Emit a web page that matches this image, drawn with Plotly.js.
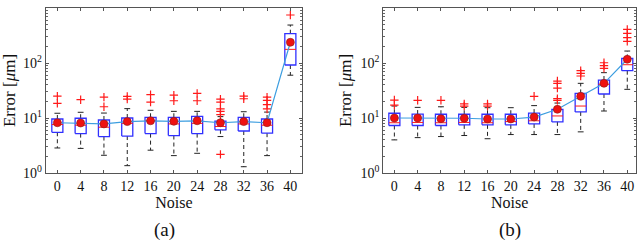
<!DOCTYPE html>
<html>
<head>
<meta charset="utf-8">
<script src="https://cdn.plot.ly/plotly-3.0.1.min.js"></script>
<style>html,body{margin:0;padding:0;background:#fff;}#chart{width:640px;height:243px;}</style>
</head>
<body>
<div id="chart"></div>
<script>
// ---------- data ----------
const noise = [0, 4, 8, 12, 16, 20, 24, 28, 32, 36, 40];
const yTickVals = [1, 10, 100, 1000];
const yTickText = ['10<sup>0</sup>', '10<sup>1</sup>', '10<sup>2</sup>', '10<sup>3</sup>'];

// panel (a)
const aQ1    = [5.5, 5.2, 4.6, 4.7, 5.2, 4.8, 5.2, 6.1, 5.8, 5.3, 92];
const aMed   = [7.6, 7.4, 6.8, 8.0, 8.9, 7.8, 8.0, 7.0, 7.8, 7.4, 177];
const aQ3    = [9.6, 9.9, 9.2, 10.0, 10.3, 10.3, 10.7, 8.8, 10.3, 9.6, 341];
const aLo    = [2.85, 2.8, 2.1, 1.36, 2.6, 2.07, 2.28, 4.6, 1.3, 2.07, 60];
const aHi    = [12.2, 12.7, 12.3, 14.8, 13.8, 13.2, 13.2, 10.6, 13.0, 12.8, 490];
const aMean  = [8.2, 8.1, 7.8, 8.6, 8.9, 8.7, 8.9, 8.2, 8.6, 8.2, 238];
const aOut   = [[25, 18.5], [21.5], [24, 16], [24.7, 22], [26.5, 19.5], [26, 20.6],
                [28, 20.6], [22, 19.5, 14.6, 13.2, 11.5, 2.18], [25, 22.4],
                [24, 21, 17.5, 14.6], [746]];

// panel (b)
const bQ1    = [7.3, 7.3, 7.3, 7.5, 7.5, 7.5, 7.8, 8.5, 12.9, 27.3, 72.5];
const bMed   = [8.2, 8.3, 8.2, 8.3, 8.2, 8.6, 8.9, 10.9, 16.5, 41, 93];
const bQ3    = [12.2, 11.8, 11.7, 11.7, 11.7, 11.7, 12.3, 14.4, 28, 49, 121];
const bLo    = [4.0, 4.4, 4.6, 4.8, 4.2, 5.0, 5.0, 5.0, 5.6, 13.4, 33.2];
const bHi    = [16.5, 15.6, 16.0, 15.6, 15.4, 15.4, 16.8, 18.7, 42.7, 66.7, 165];
const bMean  = [10.0, 10.0, 9.7, 9.9, 9.6, 9.6, 10.4, 14.4, 24.8, 42.7, 117];
const bOut   = [[21.2, 17.2], [21], [21], [18, 16.5], [18, 16.5], [],
                [24.8], [47, 42.7, 35, 22.5, 21], [72.5, 65, 58], [101, 89.5, 80],
                [409, 346, 289, 248]];

// ---------- styling ----------
const BOX_HW = 0.95, CAP_HW = 0.5;
const BLUE = '#3030ff', RED = '#ff1a1a', MEANLINE = '#3d9ee0';
const FONT = 'Liberation Serif, Times New Roman, serif';

function panelTraces(q1, med, q3, lo, hi, mean, out, xa, ya) {
  const wx = [], wy = [], cx = [], cy = [], bx = [], by = [], mx = [], my = [], ox = [], oy = [];
  noise.forEach((x, i) => {
    wx.push(x, x, null, x, x, null);
    wy.push(q3[i], hi[i], null, q1[i], lo[i], null);
    cx.push(x - CAP_HW, x + CAP_HW, null, x - CAP_HW, x + CAP_HW, null);
    cy.push(hi[i], hi[i], null, lo[i], lo[i], null);
    bx.push(x - BOX_HW, x + BOX_HW, x + BOX_HW, x - BOX_HW, x - BOX_HW, null);
    by.push(q1[i], q1[i], q3[i], q3[i], q1[i], null);
    mx.push(x - BOX_HW, x + BOX_HW, null);
    my.push(med[i], med[i], null);
    out[i].forEach(v => { ox.push(x); oy.push(v); });
  });
  const common = {xaxis: xa, yaxis: ya, showlegend: false, hoverinfo: 'skip', type: 'scatter'};
  return [
    Object.assign({x: wx, y: wy, mode: 'lines', line: {color: '#222', width: 1, dash: '4px,3px'}}, common),
    Object.assign({x: cx, y: cy, mode: 'lines', line: {color: '#222', width: 1}}, common),
    Object.assign({x: bx, y: by, mode: 'lines', line: {color: BLUE, width: 1.3}}, common),
    Object.assign({x: mx, y: my, mode: 'lines', line: {color: RED, width: 1}}, common),
    Object.assign({x: ox, y: oy, mode: 'markers',
      marker: {symbol: 'cross-thin-open', size: 6, color: RED, line: {color: RED, width: 1.2}}}, common),
    Object.assign({x: noise, y: mean, mode: 'lines+markers', line: {color: MEANLINE, width: 1.2},
      marker: {symbol: 'circle', size: 8, color: '#ee1111', line: {color: '#8a1a1a', width: 0.6}}}, common)
  ];
}

const traces = [].concat(
  panelTraces(aQ1, aMed, aQ3, aLo, aHi, aMean, aOut, 'x', 'y'),
  panelTraces(bQ1, bMed, bQ3, bLo, bHi, bMean, bOut, 'x2', 'y2')
);

const minorVals = [];
[1, 10, 100].forEach(d => { for (let k = 2; k <= 9; k++) minorVals.push(d * k); });

function xAxis(domain, range) {
  return {
    domain: domain, range: range, tickmode: 'array', tickvals: noise,
    ticks: 'inside', ticklen: 3, tickcolor: '#555', tickwidth: 1,
    showline: true, linecolor: '#555', linewidth: 1, mirror: 'ticks',
    showgrid: false, zeroline: false,
    tickfont: {family: FONT, size: 14, color: '#111'},
    title: {text: 'Noise', font: {family: FONT, size: 16, color: '#111'}, standoff: 0}
  };
}
function yAxis(anchor) {
  return {
    anchor: anchor, domain: [1 - 173 / 243, 1 - 8 / 243], type: 'log', range: [0, 3],
    tickmode: 'array', tickvals: yTickVals, ticktext: yTickText,
    ticks: 'inside', ticklen: 3, tickcolor: '#555', tickwidth: 1,
    minor: {tickmode: 'array', tickvals: minorVals, ticks: 'inside', ticklen: 2, tickcolor: '#666', showgrid: false},
    showline: true, linecolor: '#555', linewidth: 1, mirror: 'ticks',
    showgrid: false, zeroline: false,
    tickfont: {family: FONT, size: 14, color: '#111'},
    title: {text: 'Error [<i>μ</i>m]', font: {family: FONT, size: 17, color: '#111'}, standoff: 4}
  };
}

const layout = {
  width: 640, height: 243,
  margin: {l: 0, r: 0, t: 0, b: 0},
  paper_bgcolor: '#fff', plot_bgcolor: '#fff',
  xaxis: Object.assign(xAxis([45.7 / 640, 302 / 640], [-2, 42]), {anchor: 'y'}),
  yaxis: yAxis('x'),
  xaxis2: Object.assign(xAxis([383.3 / 640, 636 / 640], [-1.9, 41.5]), {anchor: 'y2'}),
  yaxis2: yAxis('x2'),
  annotations: [
    {text: '(a)', xref: 'paper', yref: 'paper', x: 164 / 640, y: 1 - 230 / 243,
     xanchor: 'center', yanchor: 'middle', showarrow: false, font: {family: FONT, size: 19, color: '#111'}},
    {text: '(b)', xref: 'paper', yref: 'paper', x: 510 / 640, y: 1 - 230 / 243,
     xanchor: 'center', yanchor: 'middle', showarrow: false, font: {family: FONT, size: 19, color: '#111'}}
  ]
};

Plotly.newPlot('chart', traces, layout, {staticPlot: true, displayModeBar: false});
</script>
</body>
</html>
